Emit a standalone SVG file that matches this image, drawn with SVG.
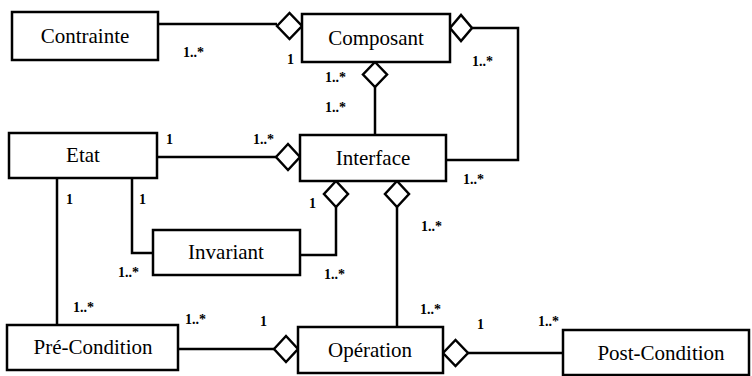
<svg xmlns="http://www.w3.org/2000/svg" width="752" height="376" viewBox="0 0 752 376">
<style>
.box{fill:#fff;stroke:#000;stroke-width:2.5}
.lbl{font-family:"Liberation Serif","Times New Roman",serif;font-size:21px;text-anchor:middle;fill:#000}
.m{font-family:"Liberation Serif","Times New Roman",serif;font-size:14px;font-weight:bold;fill:#000}
.c{fill:none;stroke:#000;stroke-width:2.5}
.d{fill:#fff;stroke:#000;stroke-width:2.5;stroke-linejoin:miter}
</style>
<rect width="752" height="376" fill="#fff"/>
<g id="connectors">
<path class="c" d="M158,24 H277"/>
<path class="c" d="M472,28 H518 V160 H446"/>
<path class="c" d="M375,87 V135"/>
<path class="c" d="M157,157 H276"/>
<path class="c" d="M336,207 V255 H300"/>
<path class="c" d="M397,207 V327"/>
<path class="c" d="M132,178 V253 H153"/>
<path class="c" d="M57,178 V325"/>
<path class="c" d="M178,349 H274"/>
<path class="c" d="M468,353 H563"/>
<polygon class="d" points="277,26 289.5,13 302,26 289.5,39"/>
<polygon class="d" points="450,28 461,15 472,28 461,41"/>
<polygon class="d" points="375,62 387,74.5 375,87 363,74.5"/>
<polygon class="d" points="276,157 288,144 300,157 288,170"/>
<polygon class="d" points="336,181 348,194 336,207 324,194"/>
<polygon class="d" points="397,181 409,194 397,207 385,194"/>
<polygon class="d" points="274,349 286,336 298,349 286,362"/>
<polygon class="d" points="443,353 455.5,340 468,353 455.5,366"/>
</g>
<g id="contrainte"><rect class="box" x="12" y="12" width="146" height="48"/><text class="lbl" x="85" y="43">Contrainte</text></g>
<g id="composant"><rect class="box" x="302" y="14" width="148" height="48"/><text class="lbl" x="376" y="45">Composant</text></g>
<g id="etat"><rect class="box" x="9" y="133" width="148" height="45"/><text class="lbl" x="83" y="162">Etat</text></g>
<g id="interface"><rect class="box" x="300" y="135" width="146" height="46"/><text class="lbl" x="373" y="165">Interface</text></g>
<g id="invariant"><rect class="box" x="153" y="230" width="147" height="45"/><text class="lbl" x="226" y="259">Invariant</text></g>
<g id="precondition"><rect class="box" x="7" y="325" width="171" height="45"/><text class="lbl" x="93" y="354">Pré-Condition</text></g>
<g id="operation"><rect class="box" x="298" y="327" width="145" height="46"/><text class="lbl" x="370" y="357">Opération</text></g>
<g id="postcondition"><rect class="box" x="563" y="330" width="186" height="45"/><text class="lbl" x="661" y="360">Post-Condition</text></g>
<g id="multiplicities">
<text class="m" x="183" y="57">1..*</text>
<text class="m" x="287" y="64">1</text>
<text class="m" x="472" y="66">1..*</text>
<text class="m" x="325" y="82">1..*</text>
<text class="m" x="325" y="112">1..*</text>
<text class="m" x="166" y="144">1</text>
<text class="m" x="253" y="144">1..*</text>
<text class="m" x="463" y="184">1..*</text>
<text class="m" x="309" y="208">1</text>
<text class="m" x="421" y="231">1..*</text>
<text class="m" x="66" y="204">1</text>
<text class="m" x="139" y="204">1</text>
<text class="m" x="118" y="277">1..*</text>
<text class="m" x="324" y="279">1..*</text>
<text class="m" x="73" y="312">1..*</text>
<text class="m" x="185" y="324">1..*</text>
<text class="m" x="260" y="326">1</text>
<text class="m" x="420" y="314">1..*</text>
<text class="m" x="477" y="329">1</text>
<text class="m" x="538" y="326">1..*</text>
</g>
</svg>
